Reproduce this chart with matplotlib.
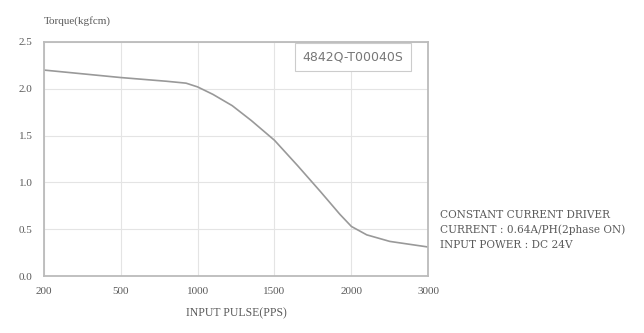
import matplotlib.pyplot as plt
import numpy as np

# pulse rate ticks (evenly spaced categories) and torque curve
pulse_labels = ["200", "500", "1000", "1500", "2000", "3000"]
curve_pos = [0.0, 0.5, 1.0, 1.6, 1.85, 2.0, 2.2, 2.45, 2.7, 3.0, 3.3, 3.6, 3.85, 4.0, 4.2, 4.5, 5.0]
torque = [2.20, 2.16, 2.12, 2.08, 2.06, 2.02, 1.94, 1.82, 1.66, 1.45, 1.18, 0.90, 0.66, 0.53, 0.44, 0.37, 0.31]
torque_ticks = [0.0, 0.5, 1.0, 1.5, 2.0, 2.5]

model = "4842Q-T00040S"
notes = ["CONSTANT CURRENT DRIVER",
         "CURRENT : 0.64A/PH(2phase ON)",
         "INPUT POWER : DC 24V"]

plt.rcParams["font.family"] = ["Liberation Serif", "DejaVu Serif"]
txt = "#5a5a5a"

fig = plt.figure(figsize=(6.44, 3.33), dpi=100)
ax = fig.add_axes([0.068, 0.171, 0.597, 0.703])

ax.plot(curve_pos, torque, color="#999999", linewidth=1.2)

ax.set_xlim(0, len(pulse_labels) - 1)
ax.set_ylim(0, 2.5)
ax.set_xticks(range(len(pulse_labels)))
ax.set_xticklabels(pulse_labels)
ax.set_yticks(torque_ticks)
ax.set_yticklabels([f"{t:.1f}" for t in torque_ticks])
ax.tick_params(length=0, labelsize=8, colors=txt, pad=8)
ax.grid(True, color="#e4e4e4", linewidth=0.8)
for s in ax.spines.values():
    s.set_color("#bbbbbb")
    s.set_linewidth(1.3)

ax.text(0.0, 1.09, "Torque(kgfcm)", transform=ax.transAxes, fontsize=8,
        color=txt, ha="left", va="center")
ax.set_xlabel("INPUT PULSE(PPS)", fontsize=8.5, color=txt, labelpad=8)

ax.text(0.805, 0.935, model, transform=ax.transAxes, fontsize=9,
        color="#777777", family="DejaVu Sans", ha="center", va="center",
        bbox=dict(boxstyle="square,pad=0.62", facecolor="white",
                  edgecolor="#cccccc", linewidth=0.8))

for i, line in enumerate(notes):
    fig.text(0.683, 0.355 - i * 0.045, line, fontsize=7.6, color=txt,
             family="DejaVu Serif", ha="left", va="center")

fig.savefig("out.png", dpi=100)
